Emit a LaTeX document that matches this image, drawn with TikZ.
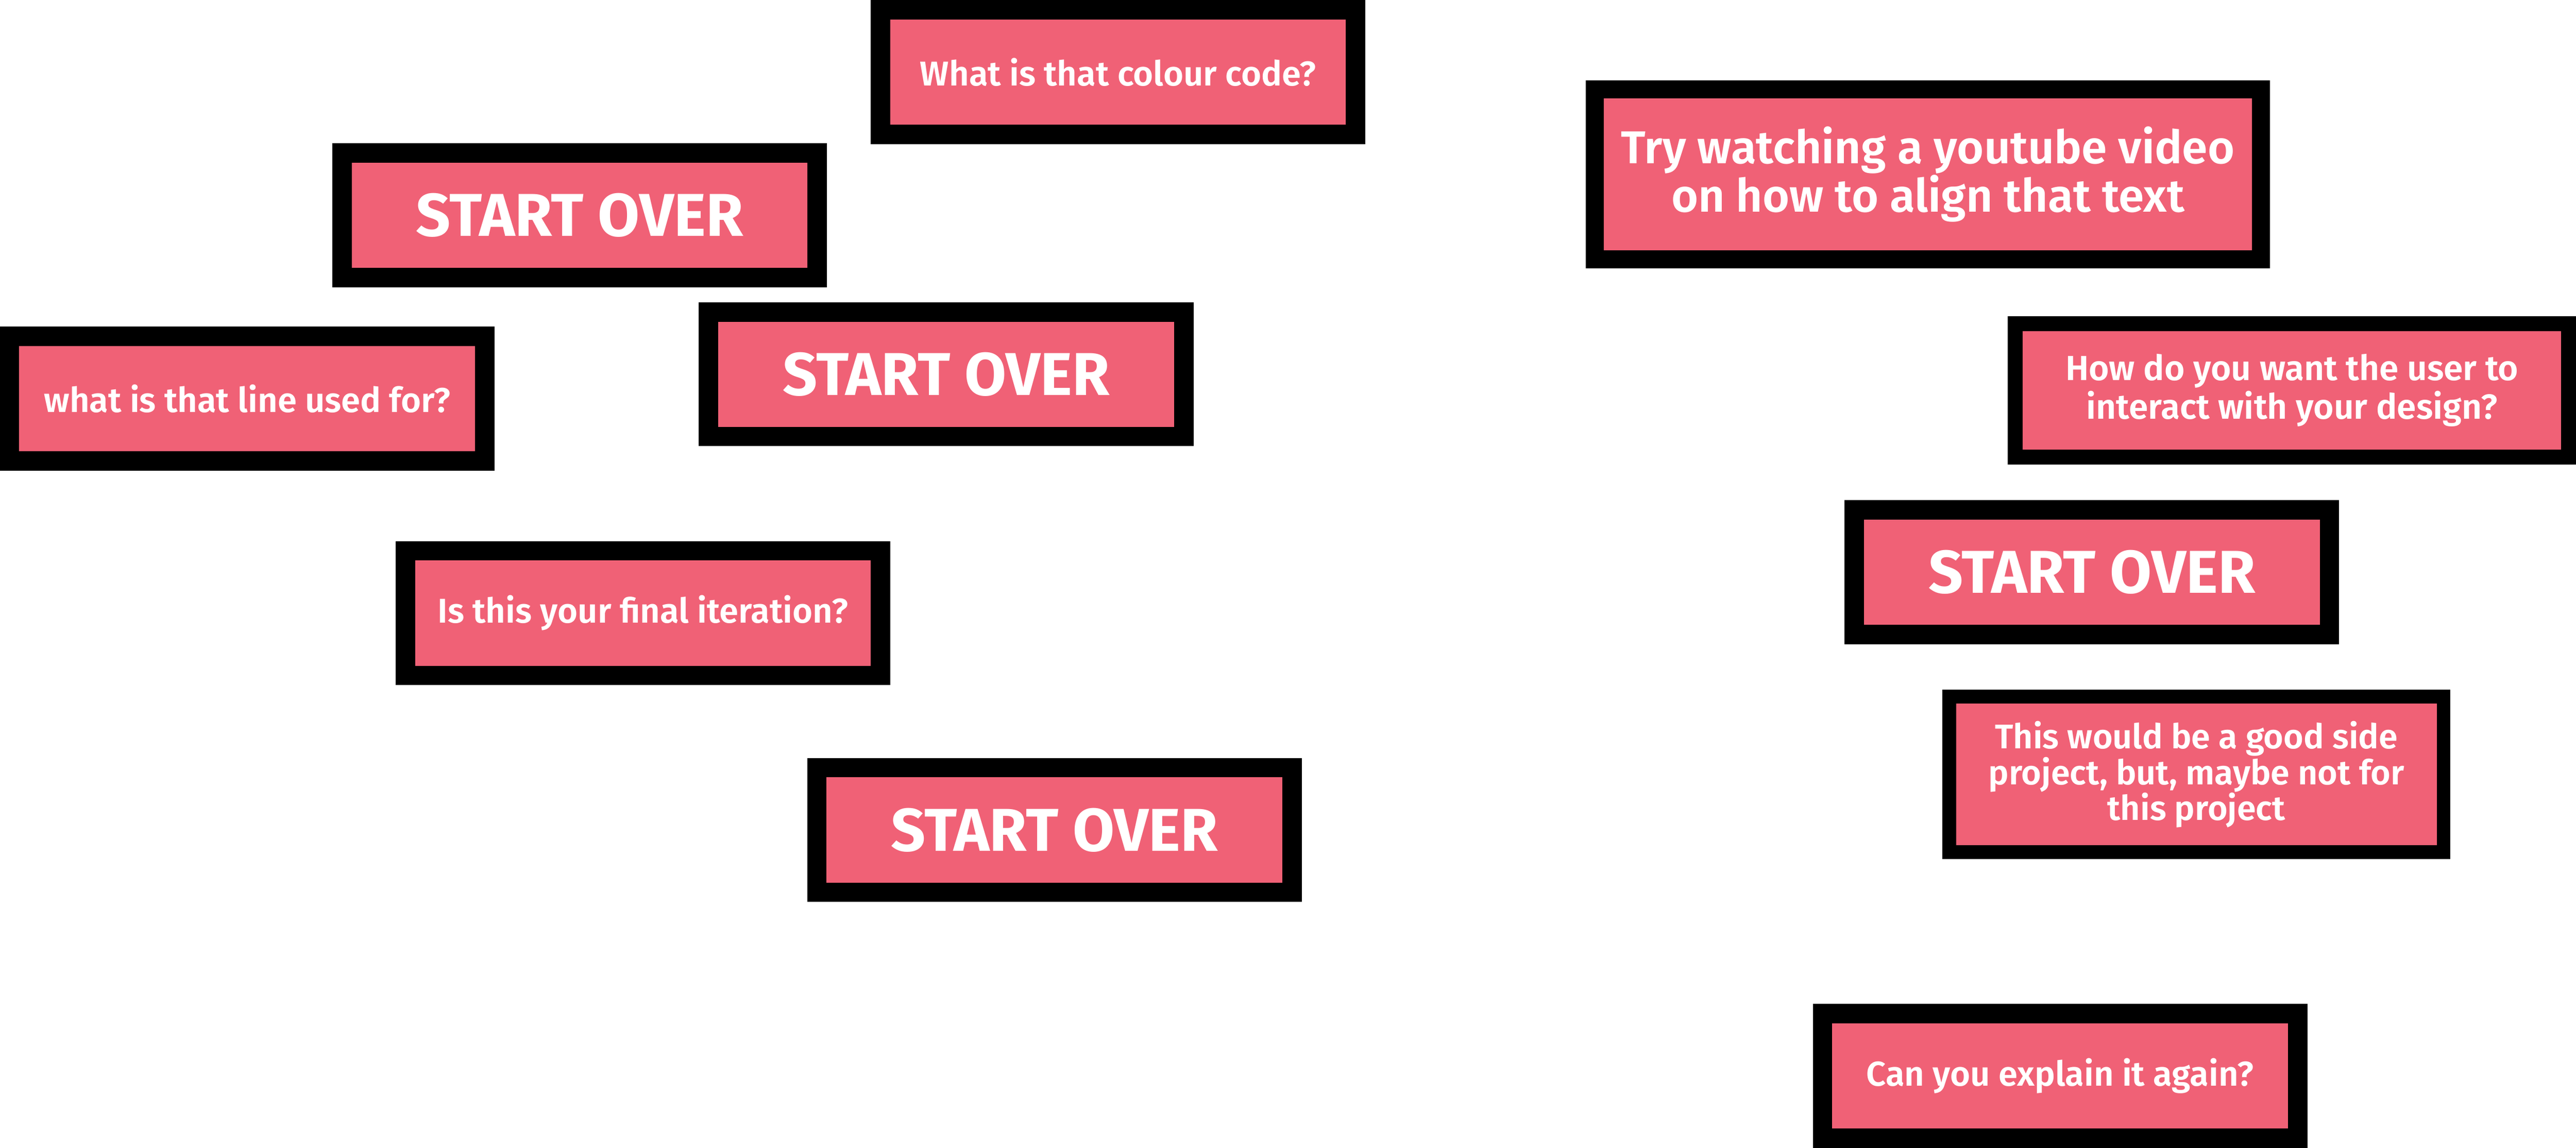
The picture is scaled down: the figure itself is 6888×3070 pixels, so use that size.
\documentclass[tikz,border=0pt]{standalone}
\usepackage{fontspec}
\setmainfont{Fira Sans}[UprightFont=* SemiBold, BoldFont=* Bold]
\definecolor{cardpink}{RGB}{240,97,118}
\tikzset{
  card/.style={draw=black, fill=cardpink, line width=0.52cm, text=white, align=center,
    minimum width=12.70cm, minimum height=3.33cm, inner sep=0pt,
    font=\fontsize{26.2}{29}\selectfont},
  restart/.style={card, font=\bfseries\fontsize{46}{50}\selectfont}
}
\begin{document}
\begin{tikzpicture}[x=0.01cm, y=-0.01cm]
\useasboundingbox (0,0) rectangle (6888,3070);
% left side
\node[card] (colour) at (2989.5,192.5) {What is that colour code?};
\node[restart] (overA) at (1550,576) {START OVER};
\node[card] (line) at (661,1066) {what is that line used for?};
\node[restart] (overB) at (2530,1001) {START OVER};
\node[card] (final) at (1719,1640) {Is this your final iteration?};
\node[restart] (overC) at (2819.5,2220) {START OVER};
% right side
\node[card, line width=0.48cm, minimum width=17.80cm, minimum height=4.54cm,
  font=\fontsize{35}{37}\selectfont] (video) at (5155,466)
  {Try watching a youtube video\\on how to align that text};
\node[card, line width=0.40cm, minimum width=14.79cm, minimum height=3.56cm,
  font=\fontsize{26.5}{29}\selectfont] (user) at (6128.5,1044)
  {How do you want the user to\\interact with your design?};
\node[restart] (overD) at (5593.5,1530.5) {START OVER};
\node[card, line width=0.37cm, minimum width=13.21cm, minimum height=4.16cm,
  font=\fontsize{26}{27.3}\selectfont] (side) at (5873,2071.5)
  {This would be a good side\\project, but, maybe not for\\this project};
\node[card] (explain) at (5508.5,2877.5) {Can you explain it again?};
\end{tikzpicture}
\end{document}
